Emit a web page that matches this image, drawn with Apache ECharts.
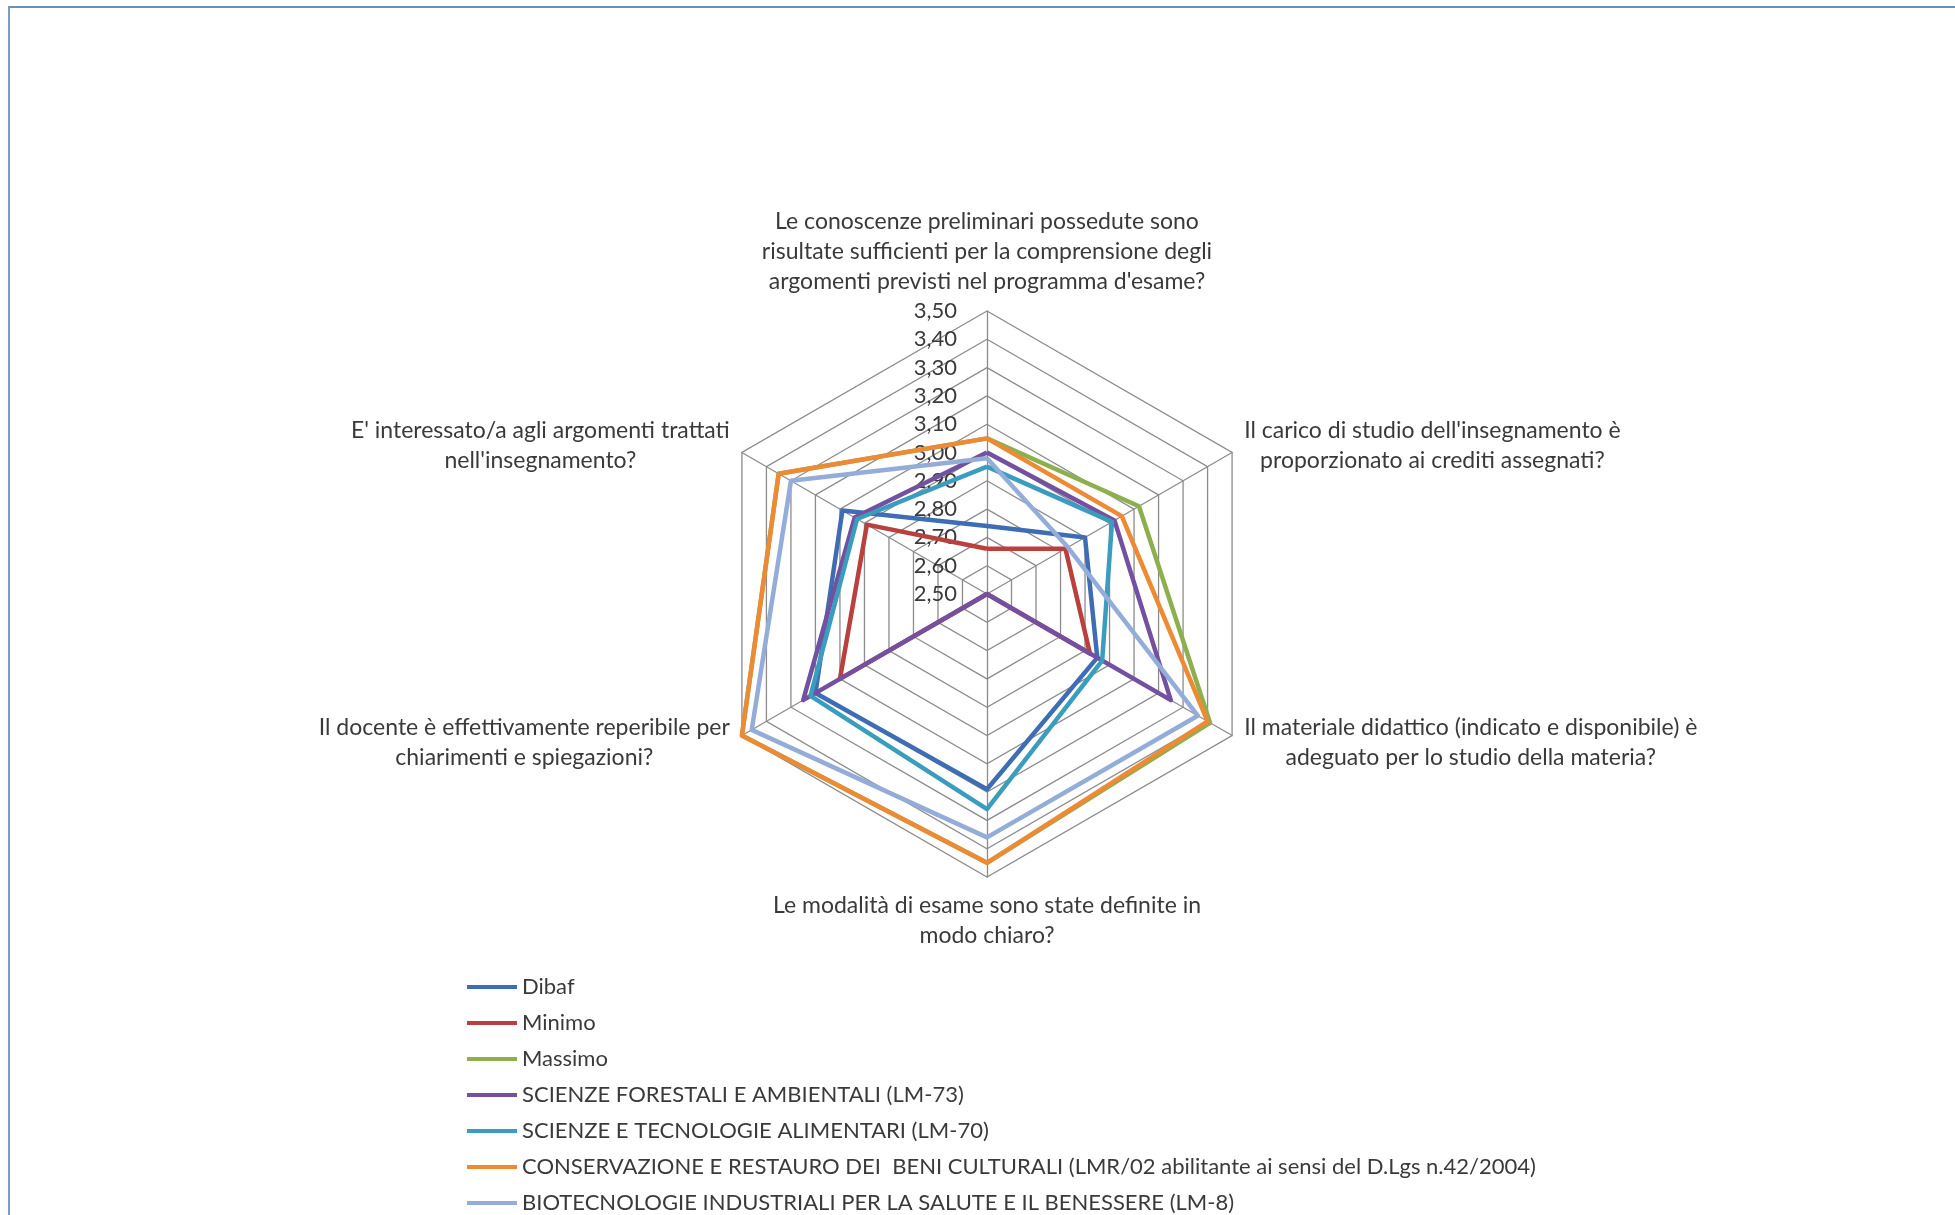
<!DOCTYPE html>
<html>
<head>
<meta charset="utf-8">
<title>Radar Dibaf</title>
<script src="https://cdn.jsdelivr.net/npm/echarts@6/dist/echarts.min.js"></script>
<style>
  html, body { margin: 0; padding: 0; background: #fff; overflow: hidden; }
  #frame {
    position: absolute; left: 8px; top: 6px; width: 1960px; height: 1230px;
    border-left: 2px solid #7c9dc9; border-top: 2px solid #6a8dbc;
  }
  #chart { position: absolute; left: 0; top: 0; width: 1955px; height: 1215px; }
</style>
</head>
<body>
<div id="frame"></div>
<div id="chart"></div>
<script>
// questions in the order of the original chart (clockwise from the top)
var questions = [
  'Le conoscenze preliminari possedute sono\nrisultate sufficienti per la comprensione degli\nargomenti previsti nel programma d\'esame?',
  'Il carico di studio dell\'insegnamento è\nproporzionato ai crediti assegnati?',
  'Il materiale didattico (indicato e disponibile) è\nadeguato per lo studio della materia?',
  'Le modalità di esame sono state definite in\nmodo chiaro?',
  'Il docente è effettivamente reperibile per\nchiarimenti e spiegazioni?',
  'E\' interessato/a agli argomenti trattati\nnell\'insegnamento?'
]
var tickLabels = ['2,50', '2,60', '2,70', '2,80', '2,90', '3,00', '3,10', '3,20', '3,30', '3,40', '3,50']

var seriesNames = [
  'Dibaf',
  'Minimo',
  'Massimo',
  'SCIENZE FORESTALI E AMBIENTALI (LM-73)',
  'SCIENZE E TECNOLOGIE ALIMENTARI (LM-70)',
  'CONSERVAZIONE E RESTAURO DEI  BENI CULTURALI (LMR/02 abilitante ai sensi del D.Lgs n.42/2004)',
  'BIOTECNOLOGIE INDUSTRIALI PER LA SALUTE E IL BENESSERE (LM-8)'
]
var dibaf = [2.74, 2.90, 2.95, 3.19, 3.20, 3.09]
var minimo = [2.66, 2.82, 2.92, 2.50, 3.10, 2.99]
var massimo = [3.05, 3.12, 3.41, 3.45, 3.50, 3.35]
var forestali = [3.00, 3.02, 3.25, 2.50, 3.25, 3.04]
var alimentari = [2.95, 3.01, 2.97, 3.26, 3.22, 3.03]
var conservazione = [3.05, 3.05, 3.40, 3.45, 3.50, 3.35]
var biotecnologie = [2.98, 2.83, 3.36, 3.36, 3.46, 3.30]

var colors = ['#3f6db3', '#b9403d', '#8db04f', '#7350a0', '#3a9dbe', '#ec8a35', '#93add8']

// echarts lays the axes out counter-clockwise, excel clockwise
var order = [0, 5, 4, 3, 2, 1]
function reorder(arr) {
  return order.map(function(i) { return arr[i] })
}

var font = 'Lato'
var textColor = '#3a3a3a'

var chart = echarts.init(document.getElementById('chart'))

var indicators = reorder(questions).map(function(q, idx) {
  var ind = { name: q, min: 2.5, max: 3.5 }
  if (idx === 0) {
    ind.axisLabel = {
      show: true,
      margin: 30,
      color: textColor,
      fontFamily: font,
      fontSize: 22,
      formatter: function(v) {
        return tickLabels[Math.round((v - 2.5) * 10)]
      }
    }
  }
  return ind
})

var allData = [dibaf, minimo, massimo, forestali, alimentari, conservazione, biotecnologie]

chart.setOption({
  backgroundColor: 'transparent',
  animation: false,
  legend: {
    orient: 'vertical',
    left: 467,
    top: 974,
    height: 280,
    padding: 0,
    icon: 'rect',
    itemWidth: 50,
    itemHeight: 4,
    itemGap: 10,
    textStyle: {
      color: textColor,
      fontFamily: font,
      fontSize: 22,
      lineHeight: 26
    },
    data: seriesNames
  },
  radar: {
    center: [987, 594],
    radius: 283,
    startAngle: 90,
    splitNumber: 10,
    shape: 'polygon',
    nameGap: 14,
    axisName: {
      color: textColor,
      formatter: function(name) {
        return name.split('\n').map(function(l) { return '{c|' + l + '}' }).join('\n')
      },
      rich: {
        c: {
          align: 'center',
          color: textColor,
          fontFamily: font,
          fontSize: 23,
          lineHeight: 30
        }
      }
    },
    axisLine: { lineStyle: { color: '#8c8c8c', width: 1.3 } },
    splitLine: { lineStyle: { color: '#8c8c8c', width: 1.3 } },
    splitArea: { show: false },
    axisTick: { show: false },
    axisLabel: { show: false },
    indicator: indicators
  },
  series: seriesNames.map(function(name, i) {
    return {
      name: name,
      type: 'radar',
      symbol: 'none',
      lineStyle: { width: 4.5, color: colors[i] },
      itemStyle: { color: colors[i] },
      data: [{ name: name, value: reorder(allData[i]) }]
    }
  })
})
</script>
</body>
</html>
